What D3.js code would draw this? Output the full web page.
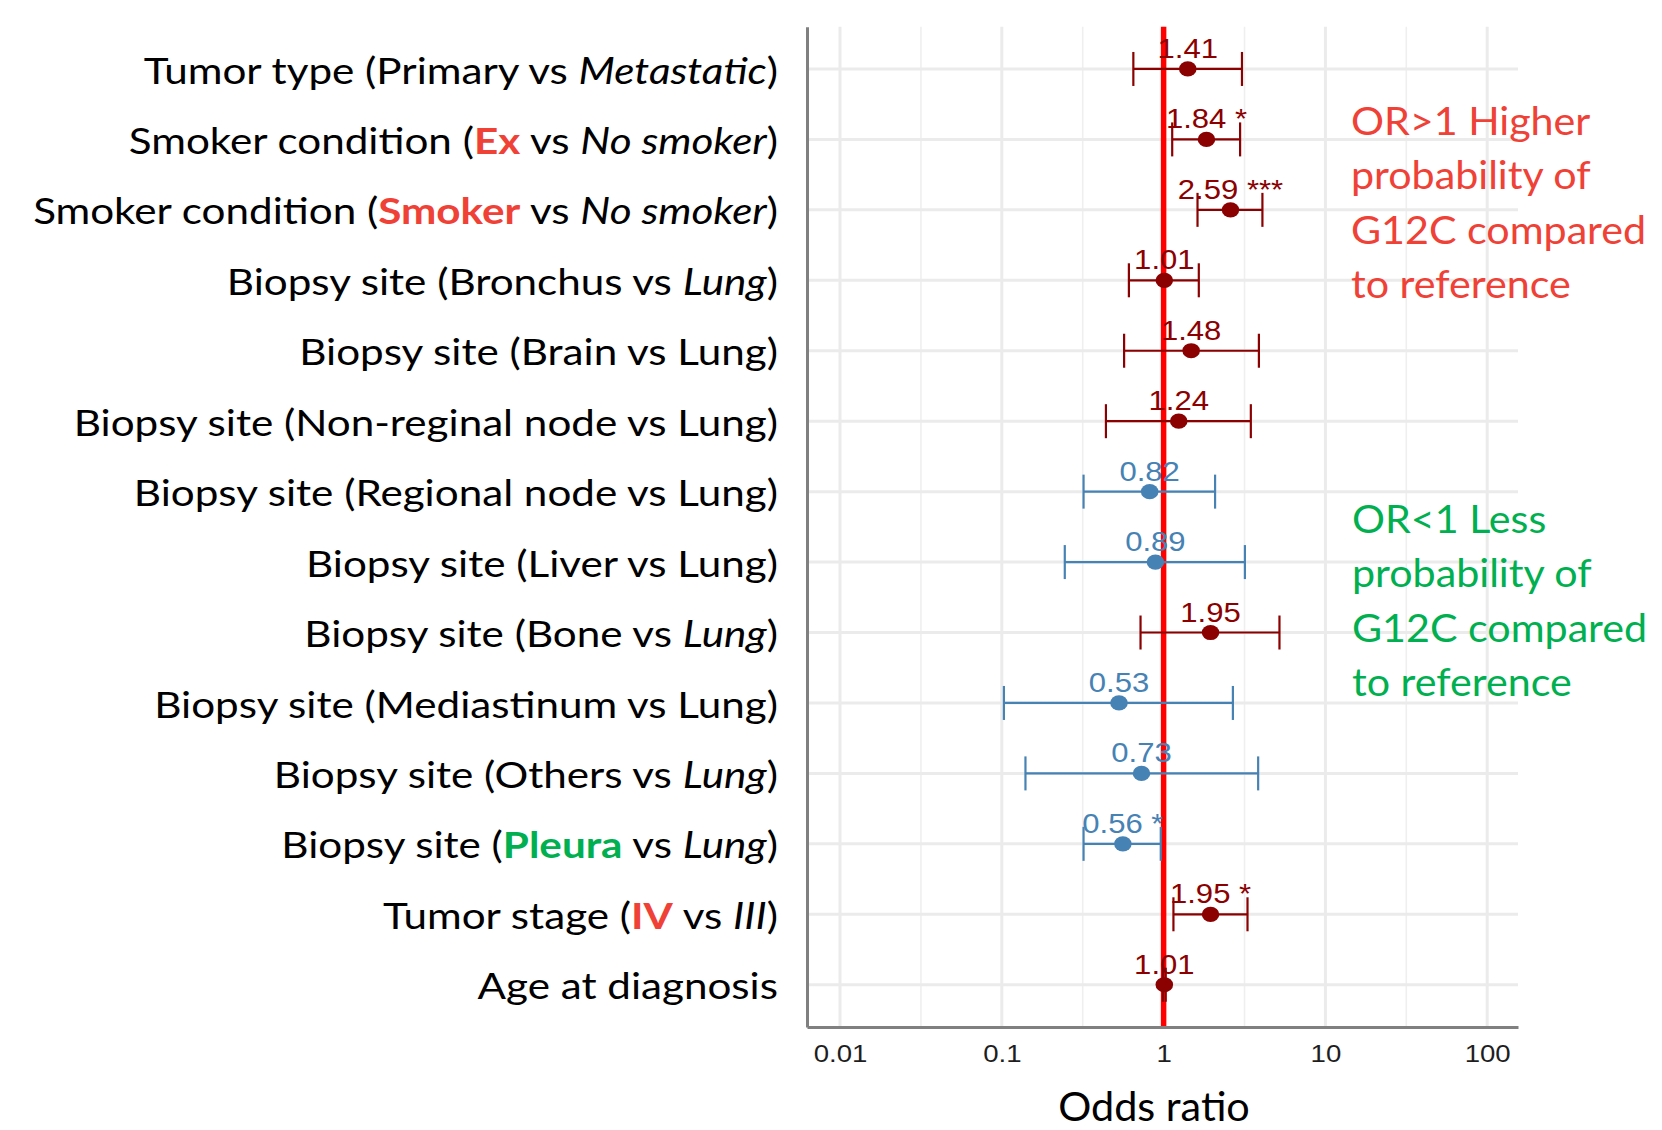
<!DOCTYPE html>
<html><head><meta charset="utf-8">
<script src="https://cdn.jsdelivr.net/npm/d3@7/dist/d3.min.js"></script>
<style>body{margin:0;background:#fff}svg{display:block}</style>
</head><body>
<svg id="chart" width="1662" height="1130"></svg>
<script>
// ---------- data ----------
const categories = [
  "Tumor type (Primary vs _Metastatic_)",
  "Smoker condition (**Ex** vs _No smoker_)",
  "Smoker condition (**Smoker** vs _No smoker_)",
  "Biopsy site (Bronchus vs _Lung_)",
  "Biopsy site (Brain vs Lung)",
  "Biopsy site (Non-reginal node vs Lung)",
  "Biopsy site (Regional node vs Lung)",
  "Biopsy site (Liver vs Lung)",
  "Biopsy site (Bone vs _Lung_)",
  "Biopsy site (Mediastinum vs Lung)",
  "Biopsy site (Others vs _Lung_)",
  "Biopsy site (**Pleura** vs _Lung_)",
  "Tumor stage (**IV** vs _III_)",
  "Age at diagnosis"
];
const oddsRatio    = [1.41, 1.84, 2.59, 1.01, 1.48, 1.24, 0.82, 0.89, 1.95, 0.53, 0.73, 0.56, 1.95, 1.01];
const ciLower      = [0.65, 1.13, 1.62, 0.61, 0.57, 0.44, 0.32, 0.245, 0.72, 0.103, 0.14, 0.32, 1.15, 0.99];
const ciUpper      = [3.05, 2.97, 4.08, 1.65, 3.88, 3.46, 2.08, 3.18, 5.2, 2.68, 3.84, 0.96, 3.30, 1.03];
const significance = ["", "*", "***", "", "", "", "", "", "", "", "", "*", "*", ""];
const xTickValues  = [0.01, 0.1, 1, 10, 100];
const xTickLabels  = ["0.01", "0.1", "1", "10", "100"];
const xTitle = "Odds ratio";
const noteHigher = ["OR>1 Higher", "probability of", "G12C compared", "to reference"];
const noteLower  = ["OR<1 Less", "probability of", "G12C compared", "to reference"];

// ---------- layout ----------
const W = 1662, H = 1130;
const P = {left: 807, right: 1518, top: 26.7, bottom: 1027};
const colUp = "#8B0000", colDown = "#4682B4";
const hiUp = "#EF4136", hiDown = "#00B050";
const stretch = 1.15;
const sansGG = "'Liberation Sans', Arial, sans-serif";
const sansPPT = "Lato, 'Open Sans', sans-serif";

const svg = d3.select("#chart");
svg.append("rect").attr("width", W).attr("height", H).attr("fill", "#fff");

const x = d3.scaleLog().domain([0.00625, 155]).range([P.left, P.right]);
const rows = d3.range(categories.length);
const y = d3.scalePoint().domain(rows).range([P.top, P.bottom]).padding(0.6);

// gridlines
const grid = svg.append("g");
const minorVals = xTickValues.slice(0, -1).map(v => v * Math.sqrt(10));
grid.selectAll(".vmin").data(minorVals).join("line")
  .attr("x1", d => x(d)).attr("x2", d => x(d))
  .attr("y1", P.top).attr("y2", P.bottom)
  .attr("stroke", "#EFEFEF").attr("stroke-width", 1.6);
grid.selectAll(".vmaj").data(xTickValues).join("line")
  .attr("x1", d => x(d)).attr("x2", d => x(d))
  .attr("y1", P.top).attr("y2", P.bottom)
  .attr("stroke", "#EBEBEB").attr("stroke-width", 3);
grid.selectAll(".h").data(rows).join("line")
  .attr("x1", P.left).attr("x2", P.right)
  .attr("y1", d => y(d)).attr("y2", d => y(d))
  .attr("stroke", "#EBEBEB").attr("stroke-width", 3);

// reference line at OR = 1
svg.append("line")
  .attr("x1", x(1)).attr("x2", x(1))
  .attr("y1", P.top).attr("y2", P.bottom)
  .attr("stroke", "#FF0000").attr("stroke-width", 5.5);

// axes
const xAxis = d3.axisBottom(x).tickValues(xTickValues)
  .tickFormat((d, i) => xTickLabels[i]).tickSize(0).tickSizeOuter(0).tickPadding(18);
const gx = svg.append("g").attr("transform", `translate(0,${P.bottom})`).call(xAxis);
gx.select(".domain").attr("stroke", "#808080").attr("stroke-width", 3);
gx.selectAll("text")
  .attr("font-family", sansGG).attr("font-size", 24).attr("fill", "#1e1e1e")
  .attr("transform", `scale(${stretch},1)`)
  .attr("x", 0);

const yAxis = d3.axisLeft(y).tickSize(0).tickSizeOuter(0).tickPadding(0).tickFormat(() => "");
const gy = svg.append("g").attr("transform", `translate(${P.left},0)`).call(yAxis);
gy.select(".domain").attr("stroke", "#808080").attr("stroke-width", 3);

// rich category labels
function parseLabel(s) {
  const parts = [];
  const re = /(\*\*[^*]+\*\*|_[^_]+_)/g;
  let last = 0, m;
  while ((m = re.exec(s)) !== null) {
    if (m.index > last) parts.push({t: s.slice(last, m.index), k: "n"});
    const tok = m[0];
    if (tok.startsWith("**")) parts.push({t: tok.slice(2, -2), k: "b"});
    else parts.push({t: tok.slice(1, -1), k: "i"});
    last = m.index + tok.length;
  }
  if (last < s.length) parts.push({t: s.slice(last), k: "n"});
  return parts;
}
const labelStretch = 1.14;
gy.selectAll(".tick text").each(function(d) {
  const t = d3.select(this).text("")
    .attr("x", 0)
    .attr("transform", `translate(-29,0) scale(${labelStretch},1)`)
    .attr("font-family", sansPPT).attr("font-size", 37).attr("fill", "#000")
    .attr("dy", "0.38em");
  parseLabel(categories[d]).forEach(p => {
    const ts = t.append("tspan").text(p.t);
    if (p.k === "b") ts.attr("font-weight", 700).attr("fill", oddsRatio[d] > 1 ? hiUp : hiDown);
    if (p.k === "i") ts.attr("font-style", "italic");
  });
});

// error bars
const cap = 17;
const eb = svg.append("g").selectAll("g").data(rows).join("g")
  .attr("stroke", d => oddsRatio[d] > 1 ? colUp : colDown).attr("stroke-width", 2.2);
eb.append("line").attr("x1", d => x(ciLower[d])).attr("x2", d => x(ciUpper[d]))
  .attr("y1", d => y(d)).attr("y2", d => y(d));
eb.append("line").attr("x1", d => x(ciLower[d])).attr("x2", d => x(ciLower[d]))
  .attr("y1", d => y(d) - cap).attr("y2", d => y(d) + cap);
eb.append("line").attr("x1", d => x(ciUpper[d])).attr("x2", d => x(ciUpper[d]))
  .attr("y1", d => y(d) - cap).attr("y2", d => y(d) + cap);

// points
svg.append("g").selectAll("ellipse").data(rows).join("ellipse")
  .attr("cx", d => x(oddsRatio[d])).attr("cy", d => y(d))
  .attr("rx", 8.8).attr("ry", 7.6)
  .attr("fill", d => oddsRatio[d] > 1 ? colUp : colDown);

// value labels
svg.append("g").selectAll("text").data(rows).join("text")
  .attr("transform", d => `translate(${x(oddsRatio[d])},${y(d) - 11}) scale(${stretch},1)`)
  .attr("text-anchor", "middle")
  .attr("font-family", sansGG).attr("font-size", 27)
  .attr("fill", d => oddsRatio[d] > 1 ? colUp : colDown)
  .text(d => oddsRatio[d].toFixed(2) + (significance[d] ? " " + significance[d] : ""));

// x title
svg.append("text")
  .attr("transform", "translate(1154,1121) scale(1.035,1)")
  .attr("text-anchor", "middle")
  .attr("font-family", sansPPT).attr("font-size", 40).attr("fill", "#000").text(xTitle);

// annotations
const noteStretch = 1.085;
svg.append("g").selectAll("text").data(noteHigher).join("text")
  .attr("transform", (d, i) => `translate(1351,${135 + i * 54.4}) scale(${noteStretch},1)`)
  .attr("font-family", sansPPT).attr("font-size", 38).attr("fill", hiUp).text(d => d);
svg.append("g").selectAll("text").data(noteLower).join("text")
  .attr("transform", (d, i) => `translate(1352,${533 + i * 54.4}) scale(${noteStretch},1)`)
  .attr("font-family", sansPPT).attr("font-size", 38).attr("fill", hiDown).text(d => d);
</script>
</body></html>
